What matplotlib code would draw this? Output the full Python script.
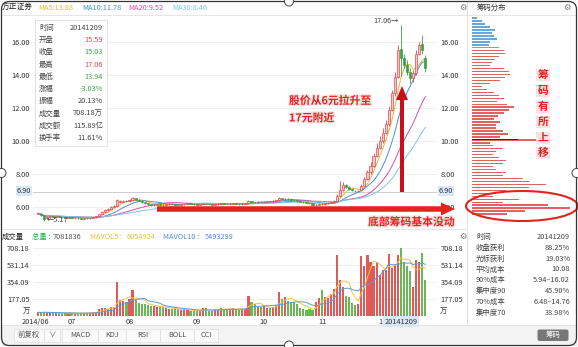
import numpy as np
import pandas as pd
import matplotlib
matplotlib.use("Agg")
import matplotlib.pyplot as plt
import matplotlib.patheffects as pe
from matplotlib.patches import Rectangle, Ellipse, FancyArrow, FancyBboxPatch, Circle

plt.rcParams['font.family'] = ['Noto Sans CJK SC', 'DejaVu Sans']

W, H = 578, 347

# daily bars, 2014/06 .. 2014/12 (cursor on 20141209)
opens = [5.58, 5.60, 5.50, 5.32, 5.40, 5.44, 5.41, 5.43, 5.40, 5.38,
         5.36, 5.37, 5.34, 5.35, 5.32, 5.30, 5.33, 5.31, 5.34, 5.38,
         5.45, 5.58, 5.70, 5.82, 5.90, 6.02, 6.05, 6.28, 6.32, 6.38,
         6.34, 6.40, 6.52, 6.45, 6.38, 6.30, 6.24, 6.18, 6.12, 6.15,
         6.18, 6.14, 6.12, 6.16, 6.20, 6.18, 6.15, 6.13, 6.16, 6.19,
         6.22, 6.20, 6.17, 6.15, 6.18, 6.21, 6.19, 6.16, 6.14, 6.17,
         6.20, 6.23, 6.21, 6.18, 6.20, 6.22, 6.19, 6.17, 6.20, 6.22,
         6.35, 6.30, 6.28, 6.32, 6.30, 6.33, 6.36, 6.34, 6.38, 6.40,
         6.52, 6.48, 6.50, 6.46, 6.42, 6.40, 6.36, 6.32, 6.28, 6.25,
         6.22, 6.10, 6.15, 6.20, 6.18, 6.22, 6.25, 6.30, 6.35, 6.65,
         7.00, 7.35, 7.20, 7.10, 7.00, 6.95, 7.00, 7.30, 7.70, 8.10,
         8.50, 9.10, 9.60, 10.00, 10.50, 11.00, 11.90, 12.90, 13.90, 15.59,
         15.03, 14.60, 14.20, 13.80, 14.10, 15.30, 15.90, 15.00]
closes = [5.62, 5.52, 5.30, 5.40, 5.44, 5.41, 5.43, 5.40, 5.38, 5.36,
          5.37, 5.34, 5.35, 5.32, 5.30, 5.33, 5.31, 5.34, 5.38, 5.45,
          5.58, 5.70, 5.82, 5.90, 6.02, 6.08, 6.40, 6.35, 6.38, 6.34,
          6.42, 6.55, 6.45, 6.38, 6.30, 6.24, 6.18, 6.12, 6.15, 6.18,
          6.14, 6.12, 6.16, 6.20, 6.18, 6.15, 6.13, 6.16, 6.19, 6.22,
          6.20, 6.17, 6.15, 6.18, 6.21, 6.19, 6.16, 6.14, 6.17, 6.20,
          6.23, 6.21, 6.18, 6.20, 6.22, 6.19, 6.17, 6.20, 6.22, 6.35,
          6.30, 6.28, 6.32, 6.30, 6.33, 6.36, 6.34, 6.38, 6.40, 6.52,
          6.48, 6.50, 6.46, 6.42, 6.40, 6.36, 6.32, 6.28, 6.25, 6.22,
          6.10, 6.15, 6.20, 6.18, 6.22, 6.25, 6.30, 6.35, 6.65, 7.00,
          7.35, 7.20, 7.10, 7.00, 6.95, 7.00, 7.30, 7.70, 8.10, 8.50,
          9.10, 9.60, 10.00, 10.50, 11.00, 11.90, 12.90, 13.90, 15.50, 15.03,
          14.60, 14.20, 13.80, 14.10, 15.30, 15.80, 15.50, 14.40]
highs = [5.66, 5.62, 5.52, 5.43, 5.47, 5.46, 5.46, 5.45, 5.42, 5.40,
         5.40, 5.39, 5.38, 5.37, 5.34, 5.35, 5.35, 5.36, 5.40, 5.48,
         5.60, 5.73, 5.86, 5.94, 6.05, 6.12, 6.50, 6.42, 6.44, 6.42,
         6.46, 6.62, 6.56, 6.48, 6.40, 6.33, 6.27, 6.20, 6.18, 6.21,
         6.20, 6.16, 6.18, 6.22, 6.22, 6.20, 6.17, 6.18, 6.21, 6.24,
         6.24, 6.22, 6.19, 6.20, 6.24, 6.23, 6.21, 6.18, 6.19, 6.22,
         6.25, 6.25, 6.23, 6.22, 6.24, 6.24, 6.21, 6.22, 6.24, 6.40,
         6.38, 6.33, 6.34, 6.34, 6.36, 6.38, 6.38, 6.40, 6.43, 6.58,
         6.55, 6.54, 6.52, 6.48, 6.45, 6.42, 6.38, 6.34, 6.30, 6.27,
         6.24, 6.18, 6.23, 6.24, 6.25, 6.28, 6.33, 6.40, 6.80, 7.55,
         7.50, 7.40, 7.25, 7.15, 7.05, 7.05, 7.38, 7.80, 8.25, 8.70,
         9.30, 9.90, 10.30, 10.80, 11.30, 12.10, 13.10, 14.20, 15.80, 17.06,
         15.30, 14.90, 14.40, 14.30, 15.50, 16.00, 16.40, 15.20]
lows = [5.55, 5.48, 5.17, 5.28, 5.36, 5.38, 5.38, 5.37, 5.35, 5.33,
        5.33, 5.31, 5.31, 5.29, 5.27, 5.28, 5.28, 5.29, 5.32, 5.36,
        5.43, 5.55, 5.68, 5.78, 5.87, 5.98, 6.00, 6.22, 6.28, 6.30,
        6.31, 6.38, 6.40, 6.34, 6.26, 6.20, 6.15, 6.08, 6.09, 6.12,
        6.11, 6.09, 6.10, 6.14, 6.15, 6.13, 6.11, 6.11, 6.14, 6.17,
        6.18, 6.15, 6.13, 6.13, 6.16, 6.17, 6.14, 6.12, 6.12, 6.15,
        6.18, 6.19, 6.16, 6.16, 6.18, 6.17, 6.15, 6.15, 6.18, 6.20,
        6.27, 6.25, 6.26, 6.28, 6.28, 6.31, 6.32, 6.32, 6.36, 6.38,
        6.45, 6.45, 6.43, 6.40, 6.37, 6.33, 6.30, 6.26, 6.23, 6.20,
        6.08, 6.08, 6.12, 6.15, 6.15, 6.19, 6.22, 6.27, 6.33, 6.62,
        6.95, 7.15, 7.05, 6.95, 6.90, 6.92, 6.98, 7.25, 7.65, 8.00,
        8.45, 9.00, 9.50, 9.90, 10.40, 10.90, 11.80, 12.70, 13.80, 13.94,
        14.40, 14.00, 13.50, 13.60, 14.00, 15.20, 15.30, 14.20]
# volume in 万手
volumes = [38, 36, 42, 35, 33, 30, 31, 32, 30, 29,
           31, 30, 28, 29, 31, 32, 33, 35, 40, 45,
           72, 80, 85, 78, 95, 90, 357, 165, 158, 150,
           180, 271, 170, 140, 125, 120, 110, 100, 105, 95,
           90, 92, 80, 75, 72, 70, 68, 65, 70, 62,
           55, 50, 48, 52, 88, 85, 50, 48, 70, 75,
           80, 72, 68, 75, 80, 70, 65, 72, 78, 208,
           150, 120, 95, 90, 100, 85, 80, 95, 110, 246,
           175, 200, 160, 140, 150, 130, 85, 70, 65, 75,
           60, 150, 190, 270, 200, 190, 230, 280, 635, 380,
           300, 210, 200, 140, 110, 120, 620, 520, 640, 560,
           520, 560, 430, 480, 475, 650, 500, 530, 640, 708.18,
           560, 520, 470, 300, 580, 560, 660, 375]

month_labels = ['2014/06', '07', '08', '09', '10', '11']
month_pos = [-0.7, 11.1, 30.2, 52.1, 73.8, 93.4]

price_ticks = [6, 8, 10, 12, 14, 16]
vol_ticks = [177.05, 354.09, 531.14, 708.18]
cursor_price = 6.90

# chip distribution, top level first (bar length in panel pixels)
chip_top, chip_bottom = 17.45, 5.57
chip_len = [5, 10, 13, 18, 23, 20, 22, 25, 18, 17,
            27, 32, 33, 27, 23, 20, 18, 32, 37, 38,
            33, 28, 18, 10, 15, 22, 27, 32, 25, 35,
            42, 37, 32, 26, 22, 28, 24, 24, 31, 36,
            28, 66, 18, 21, 31, 24, 21, 27, 34, 31,
            21, 24, 34, 31, 51, 57, 74, 57, 34, 24,
            21, 47, 31, 76, 98, 53, 35]
chip_split = 15.5
avg_cost, avg_len = 10.08, 46

ma_names = ['MA5:13.88', 'MA10:11.78', 'MA20:9.52', 'MA30:8.46']
ma_windows = [5, 10, 20, 30]
ma_colors = ['#eab53c', '#4a8fd8', '#d24fae', '#7cc6e6']

info_labels = ['时间', '开盘', '收盘', '最高', '最低', '涨幅', '振幅', '成交量', '成交额', '换手率']
info_values = ['20141209', '15.59', '15.03', '17.06', '13.94', '-3.03%', '20.13%', '708.18万', '115.89亿', '11.61%']
info_colors = ['#444', '#e0474c', '#3aa84a', '#e0474c', '#3aa84a', '#3aa84a', '#444', '#444', '#444', '#444']

chip_info_labels = ['时间', '收盘获利', '光标获利', '平均成本', '90%成本', '集中度90', '70%成本', '集中度70']
chip_info_values = ['20141209', '88.25%', '19.03%', '10.08', '5.94–16.02', '45.90%', '6.48–14.76', '38.98%']

buttons = ['前复权', '∨', 'MACD', 'KDJ', 'RSI', 'BOLL', 'CCI']

RED = '#e0474c'
GREEN = '#3e9e45'
MARK = '#e2231e'
FS = 5.3


def box(x0, y0, x1, y1):
    return [x0 / W, 1 - y1 / H, (x1 - x0) / W, (y1 - y0) / H]


def price_at(y):
    return 16 - (y - 42) / 16.5


fig = plt.figure(figsize=(W / 100, H / 100), dpi=100)
fig.patch.set_facecolor('white')

idx = np.arange(len(closes))
o = np.array(opens)
c = np.array(closes)
up = c >= o

# price panel
ax = fig.add_axes(box(33, 14, 437, 228))
ax.set_xlim(-1.64, 130.8)
ax.set_ylim(price_at(228), price_at(14))
ax.set_yticks(price_ticks)
ax.set_yticklabels(['%.2f' % t for t in price_ticks])
ax.set_xticks([])
ax.tick_params(axis='y', length=0, labelsize=FS, labelcolor='#333', labelleft=True, labelright=True, pad=2.5)
for s in ax.spines.values():
    s.set_visible(False)
ax.grid(axis='y', color='#ececec', lw=0.6)
ax.set_axisbelow(True)
ax.axhline(cursor_price, color='#c4c4c4', lw=0.6)

cs = pd.Series(closes)
for n, col in zip(ma_windows, ma_colors):
    ax.plot(idx, cs.rolling(n, min_periods=1).mean(), color=col, lw=0.7, zorder=2)
ax.vlines(idx, lows, highs, colors=np.where(up, RED, GREEN), lw=0.6, zorder=3)
ax.bar(idx, np.maximum(np.abs(c - o), 0.02), bottom=np.minimum(o, c), width=0.7,
       color=np.where(up, '#f8c9c9', GREEN), edgecolor=np.where(up, RED, GREEN), linewidth=0.5, zorder=4)

# volume panel
axv = fig.add_axes(box(33, 243, 437, 316))
axv.set_xlim(-1.64, 130.8)
axv.set_ylim(0, 73 * 708.18 / 68)
axv.bar(idx, volumes, width=0.7, color=np.where(up, '#e05a58', '#6cb65a'), zorder=2)
vs = pd.Series(volumes)
axv.plot(idx, vs.rolling(5, min_periods=1).mean(), color='#f2c447', lw=0.7, zorder=3)
axv.plot(idx, vs.rolling(10, min_periods=1).mean(), color='#5a9ad6', lw=0.7, zorder=3)
axv.set_yticks(vol_ticks)
axv.set_yticklabels(['%.2f' % t for t in vol_ticks])
axv.set_xticks(month_pos)
axv.set_xticklabels(month_labels)
axv.tick_params(length=0, labelsize=FS, labelcolor='#333', labelleft=True, labelright=True, pad=2.5)
axv.tick_params(axis='x', pad=1.5)
for s in axv.spines.values():
    s.set_visible(False)
axv.grid(axis='y', color='#ececec', lw=0.6)
axv.set_axisbelow(True)

# chip distribution panel
axc = fig.add_axes(box(472, 14, 578, 228))
axc.set_xlim(0, 106)
axc.set_ylim(price_at(228), price_at(14))
levels = np.linspace(chip_top, chip_bottom, len(chip_len))
axc.barh(levels, chip_len, height=0.085, color=np.where(levels > chip_split, '#6aa6da', '#e06262'))
axc.barh([avg_cost], [avg_len], height=0.085, color='#2a2a2a')
axc.axis('off')

# overlay in pixel units
ov = fig.add_axes([0, 0, 1, 1])
ov.set_xlim(0, W)
ov.set_ylim(H, 0)
ov.axis('off')
ov.patch.set_alpha(0)

ov.plot([2, 576], [15, 15], color='#e2e2e2', lw=0.6)
ov.plot([467, 467], [2, 325], color='#dcdcdc', lw=0.6)
ov.plot([2, 467], [229, 229], color='#e2e2e2', lw=0.6)

ov.text(2, 7.5, '方正证券', fontsize=5.6, color='#222', va='center')
for name, col, x in zip(ma_names, ma_colors, [38, 82, 128, 172]):
    ov.text(x, 7.5, name, fontsize=FS, color=col, va='center')
ov.text(477, 8, '筹码分布', fontsize=FS, color='#333', va='center')
for gx, gy in [(463, 7.5), (567, 7.5), (463, 236.5)]:
    ov.text(gx, gy, '⚙', fontsize=6, color='#777', ha='center', va='center', family='DejaVu Sans')

# info box
ov.add_patch(Rectangle((35, 20), 72, 126, fc='white', ec='#dddddd', lw=0.6, zorder=5))
for k, (lab, val, col) in enumerate(zip(info_labels, info_values, info_colors)):
    y = 28 + 12.2 * k
    ov.text(39, y, lab, fontsize=FS, color='#444', va='center', zorder=6)
    ov.text(103, y, val, fontsize=FS, color=col, va='center', ha='right', zorder=6)

ov.text(386, 21, '17.06→', fontsize=5.2, color='#444', ha='center', va='center')
ov.text(47, 220, '←5.17', fontsize=5.2, color='#444', va='center')
for x, ha in [(31, 'right'), (439, 'left')]:
    ov.text(x, 191, '%.2f' % cursor_price, fontsize=FS, color='#333', ha=ha, va='center',
            bbox=dict(boxstyle='square,pad=0.15', fc='#d9e8f8', ec='none'))

# volume header
for x, s, col in [(2, '成交量', '#222'), (32, '总量 :', '#3aa84a'), (53, '7081836', '#555'),
                  (90, 'MAVOL5 :', '#e9c040'), (127, '6054924', '#e9c040'),
                  (163, 'MAVOL10 :', '#4a8fd8'), (205, '5493299', '#4a8fd8')]:
    ov.text(x, 236.5, s, fontsize=FS, color=col, va='center')
ov.text(30, 311, '万', fontsize=FS, color='#333', ha='right', va='center')
ov.text(440, 311, '万', fontsize=FS, color='#333', ha='left', va='center')
ov.text(380, 321.5, '1', fontsize=FS, color='#333', ha='center', va='center')
ov.text(401, 321.5, '20141209', fontsize=FS, color='#333', ha='center', va='center',
        bbox=dict(boxstyle='square,pad=0.15', fc='#d9e8f8', ec='none'))

# chip info table
for k, (lab, val) in enumerate(zip(chip_info_labels, chip_info_values)):
    y = 237 + 10.8 * k
    ov.text(476, y, lab, fontsize=FS, color='#444', va='center')
    ov.text(570, y, val, fontsize=FS, color='#444', va='center', ha='right')

# bottom toolbar
ov.add_patch(Rectangle((2, 325), 574, 20, fc='#f3f3f3', ec='#e0e0e0', lw=0.6))
for (x0, x1), s in zip([(14, 44), (44, 60), (62, 98), (98, 126), (126, 160), (160, 194), (194, 218)], buttons):
    ov.add_patch(Rectangle((x0, 328.5), x1 - x0, 13, fc='#fafafa', ec='#dedede', lw=0.5))
    ov.text((x0 + x1) / 2, 335, s, fontsize=FS, color='#555', ha='center', va='center')
ov.add_patch(FancyBboxPatch((538, 330), 30, 10.5, boxstyle='round,pad=0.5,rounding_size=2',
                            fc='#777', ec='none'))
ov.text(553, 335.3, '筹码', fontsize=FS, color='white', ha='center', va='center')

# markup drawn over the screenshot
halo = [pe.withStroke(linewidth=2, foreground='#fde3e3')]
ov.add_patch(FancyArrow(157, 209, 298, 0, width=5.5, head_width=13, head_length=14,
                        length_includes_head=True, color=MARK, lw=0, zorder=7))
ov.add_patch(FancyArrow(402, 192, 0, -106, width=4, head_width=12, head_length=14,
                        length_includes_head=True, color='#c8101a', lw=0, zorder=7))
ov.text(289, 101, '股价从6元拉升至', fontsize=7.8, fontweight='bold', color=MARK, va='center',
        path_effects=halo, zorder=8)
ov.text(289, 118, '17元附近', fontsize=7.8, fontweight='bold', color=MARK, va='center',
        path_effects=halo, zorder=8)
ov.text(368, 222, '底部筹码基本没动', fontsize=7.8, fontweight='bold', color=MARK, va='center',
        path_effects=halo, zorder=8)
for ch, y in zip('筹码有所上移', [75, 91, 107, 122, 138, 153]):
    ov.text(543, y, ch, fontsize=7.8, fontweight='bold', color=MARK, ha='center', va='center', zorder=8,
            bbox=dict(boxstyle='square,pad=0.12', fc='#fbe2e2', ec='none'))
ov.add_patch(Ellipse((522, 206), 112, 30, fill=False, ec=MARK, lw=1.5, zorder=8))

# screenshot frame and crop handles
ov.add_patch(FancyBboxPatch((1.5, 1.5), 575, 344, boxstyle='round,pad=0,rounding_size=8',
                            fill=False, ec='#333', lw=0.9, zorder=9))
for hx, hy in [(289, 1.5), (289, 345.5), (1.5, 173), (576.5, 173)]:
    ov.add_patch(Circle((hx, hy), 4.5, fc='white', ec='#444', lw=0.7, zorder=10))

fig.savefig('out.png', dpi=100)
